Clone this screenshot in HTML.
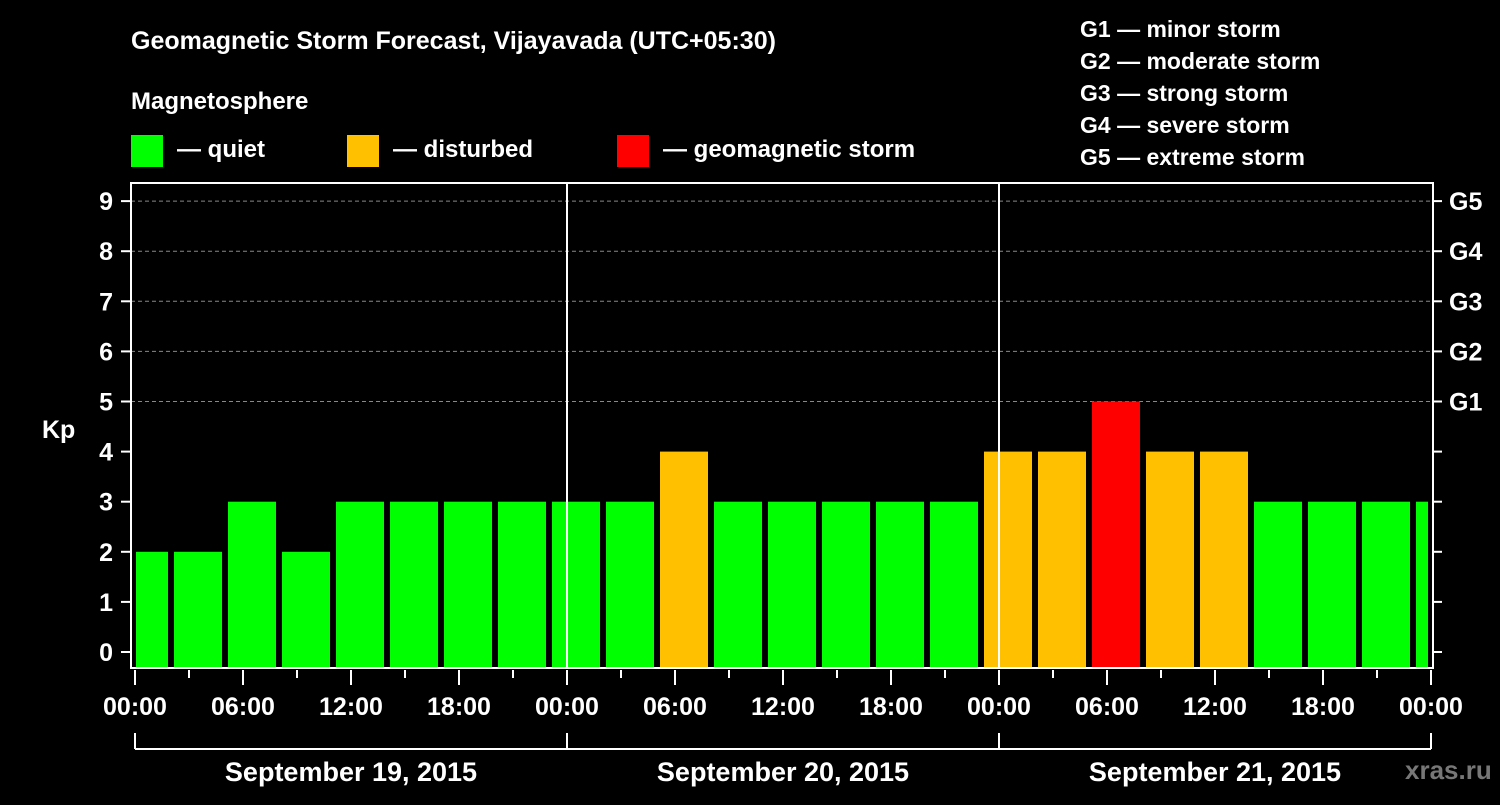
<!DOCTYPE html>
<html><head><meta charset="utf-8"><style>
body{margin:0;background:#000;width:1500px;height:800px;overflow:hidden}
svg text{font-family:"Liberation Sans",sans-serif;font-weight:bold;fill:#fff}
</style></head><body>
<svg id="c" width="1500" height="800">
<text x="131" y="49" font-size="25">Geomagnetic Storm Forecast, Vijayavada (UTC+05:30)</text>
<text x="131" y="109" font-size="24">Magnetosphere</text>
<g><rect x="131" y="135" width="32" height="32" fill="#00ff00"/><text x="177" y="157" font-size="24">— quiet</text></g>
<g><rect x="347" y="135" width="32" height="32" fill="#ffc000"/><text x="393" y="157" font-size="24">— disturbed</text></g>
<g><rect x="617" y="135" width="32" height="32" fill="#ff0000"/><text x="663" y="157" font-size="24">— geomagnetic storm</text></g>
<g font-size="23">
<text x="1080" y="37">G1 — minor storm</text><text x="1080" y="69">G2 — moderate storm</text><text x="1080" y="101">G3 — strong storm</text><text x="1080" y="133">G4 — severe storm</text><text x="1080" y="165">G5 — extreme storm</text></g>
<text x="42" y="438" font-size="25">Kp</text>
<text x="1405" y="779" font-size="26" style="fill:#777">xras.ru</text>
<g id="grid"></g><g id="bars"></g><g id="axes"></g>
</svg>
<script>
const kpValues=[2,2,3,2,3,3,3,3,3,3,4,3,3,3,3,3,4,4,5,4,4,3,3,3,3];
const yTicks=[0,1,2,3,4,5,6,7,8,9];
const gLabels=["G1","G2","G3","G4","G5"];
const gLevels=[5,6,7,8,9];
const xTickLabels=["00:00","06:00","12:00","18:00","00:00","06:00","12:00","18:00","00:00","06:00","12:00","18:00","00:00"];
const dayLabels=["September 19, 2015","September 20, 2015","September 21, 2015"];
const NS="http://www.w3.org/2000/svg";
const X0=135,PXH=18,PL=131,PR=1433,PT=183,PB=668;
const xs=h=>X0+h*PXH, ys=v=>652-v*50.1;
function mk(p,t,a){const e=document.createElementNS(NS,t);for(const k in a)e.setAttribute(k,a[k]);p.appendChild(e);return e;}
const grid=document.getElementById('grid'),bars=document.getElementById('bars'),axes=document.getElementById('axes');
gLevels.forEach(v=>{const l=mk(grid,'line',{x1:PL,x2:PR,y1:ys(v),y2:ys(v),stroke:'#888','stroke-dasharray':'4,3','stroke-width':1});

});
kpValues.forEach((v,i)=>{let s=xs(2+3*(i-1))+3,e=xs(2+3*i)-3;s=Math.max(s,136);e=Math.min(e,1428);
const col=v>=5?'#ff0000':v>=4?'#ffc000':'#00ff00';
const r=mk(bars,'rect',{x:s,y:ys(v),width:e-s,height:PB-ys(v),fill:col});

});
[1,2].forEach(d=>mk(axes,'line',{x1:xs(24*d),x2:xs(24*d),y1:PT,y2:PB,stroke:'#fff','stroke-width':2}));
mk(axes,'rect',{x:PL,y:PT,width:PR-PL,height:PB-PT,fill:'none',stroke:'#fff','stroke-width':2});
yTicks.forEach(v=>{mk(axes,'line',{x1:121,x2:PL,y1:ys(v),y2:ys(v),stroke:'#fff','stroke-width':2});
mk(axes,'line',{x1:PR,x2:1442,y1:ys(v),y2:ys(v),stroke:'#fff','stroke-width':2});
const t=mk(axes,'text',{x:113,y:ys(v)+9,'font-size':25,'text-anchor':'end'});t.textContent=v;

});
gLabels.forEach((g,i)=>{const t=mk(axes,'text',{x:1449,y:ys(gLevels[i])+9,'font-size':25});t.textContent=g;

});
for(let h=0;h<=72;h+=3){const maj=h%6===0;mk(axes,'line',{x1:xs(h),x2:xs(h),y1:PB+2,y2:PB+(maj?17:10),stroke:'#fff','stroke-width':2});}
xTickLabels.forEach((s,i)=>{const t=mk(axes,'text',{x:xs(6*i),y:715,'font-size':25,'text-anchor':'middle'});t.textContent=s;

});
mk(axes,'line',{x1:xs(0),x2:xs(72),y1:749,y2:749,stroke:'#fff','stroke-width':2});
[0,1,2,3].forEach(d=>mk(axes,'line',{x1:xs(24*d),x2:xs(24*d),y1:733,y2:749,stroke:'#fff','stroke-width':2}));
dayLabels.forEach((s,i)=>{const t=mk(axes,'text',{x:xs(24*i+12),y:781,'font-size':27,'text-anchor':'middle'});t.textContent=s;

});
</script>
</body></html>
